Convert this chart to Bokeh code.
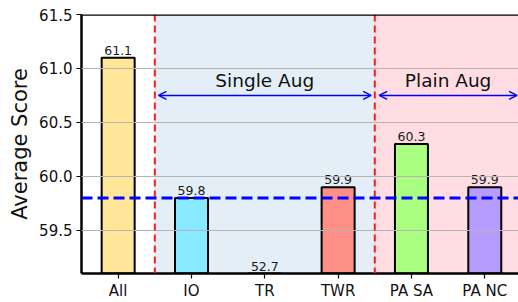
from bokeh.plotting import figure
from bokeh.models import (ColumnDataSource, Span, Arrow, OpenHead, Label,
                          FixedTicker, NumeralTickFormatter, Range1d)
from bokeh.embed import file_html
from bokeh.resources import INLINE
from bokeh.core.properties import value

# ---- data ----
categories = ["All", "IO", "TR", "TWR", "PA SA", "PA NC"]
scores = [61.1, 59.8, 52.7, 59.9, 60.3, 59.9]
bar_colors = ["#FFE699", "#88EAFF", "#FFB6C1", "#FF9088", "#AAFF80", "#B69CFF"]
baseline = 59.8
y_ticks = [59.5, 60.0, 60.5, 61.0, 61.5]
groups = ["Single Aug", "Plain Aug"]

y0, y1 = 59.1, 61.5
x0, x1 = -0.5, 5.46

FONT = "DejaVu Sans"

p = figure(width=518, height=302, output_backend="svg", toolbar_location=None,
           x_range=Range1d(x0, x1), y_range=Range1d(y0, y1),
           min_border_left=81, min_border_right=0, min_border_top=14,
           min_border_bottom=27)
p.outline_line_color = None
p.background_fill_color = "white"

# shaded regions
p.quad(left=[0.5], right=[3.5], bottom=[y0], top=[y1],
       fill_color="#E3EEF6", line_color=None)
p.quad(left=[3.5], right=[6.0], bottom=[y0], top=[y1],
       fill_color="#FFDDE3", line_color=None)

xs = list(range(len(categories)))
src = ColumnDataSource(dict(x=xs, top=scores, color=bar_colors,
                            ly=[max(s, y0) for s in scores],
                            lab=[f"{s:.1f}" for s in scores]))
p.vbar(x="x", top="top", bottom=0, width=0.45, fill_color="color",
       line_color="black", line_width=2, source=src)

p.text(x="x", y="ly", text="lab", source=src, text_align="center",
       text_baseline="bottom", y_offset=-3, text_font=value(FONT),
       text_font_size="12.5px", text_color="#1a1a1a")

# grid above bars
p.xgrid.visible = False
p.ygrid.ticker = FixedTicker(ticks=y_ticks)
p.ygrid.grid_line_color = "#b5b5b5"
p.ygrid.grid_line_width = 1.2
p.ygrid.level = "annotation"

# red dashed separators
for xv in [0.5, 3.5]:
    p.add_layout(Span(location=xv, dimension="height", line_color="#FF1A1A",
                      line_width=2, line_dash="7 4"))

# baseline
p.add_layout(Span(location=baseline, dimension="width", line_color="#0000FF",
                  line_width=3, line_dash="11 5"))

# top border
p.add_layout(Span(location=y1, dimension="width", line_color="black",
                  line_width=2.5))

# arrows
ay = 60.75
for (xa, xb, name, xc) in [(0.55, 3.45, groups[0], 2.0),
                            (3.56, 5.44, groups[1], 4.5)]:
    p.add_layout(Arrow(x_start=xa, x_end=xb, y_start=ay, y_end=ay,
                       start=OpenHead(size=8, line_color="#0000FF", line_width=1.5),
                       end=OpenHead(size=8, line_color="#0000FF", line_width=1.5),
                       line_color="#0000FF", line_width=1.5))
    p.add_layout(Label(x=xc, y=ay, text=name, text_align="center",
                       text_baseline="bottom", y_offset=4,
                       text_font=FONT, text_font_size="18.5px",
                       text_color="#111111"))

# axes
p.yaxis.ticker = FixedTicker(ticks=y_ticks)
p.yaxis.formatter = NumeralTickFormatter(format="0.0")
p.yaxis.axis_label = "Average Score"
p.yaxis.axis_label_text_font = FONT
p.yaxis.axis_label_text_font_size = "21px"
p.yaxis.axis_label_text_font_style = "normal"
p.yaxis.axis_label_text_color = "#111111"
p.yaxis.axis_label_standoff = 4

p.xaxis.ticker = FixedTicker(ticks=xs)
p.xaxis.major_label_overrides = {i: c for i, c in enumerate(categories)}

for ax in [p.xaxis, p.yaxis]:
    ax.axis_line_width = 2.5
    ax.axis_line_color = "black"
    ax.major_tick_line_width = 1.2
    ax.major_tick_out = 5
    ax.major_tick_in = 0
    ax.minor_tick_line_color = None
    ax.major_label_text_font = FONT
    ax.major_label_text_font_size = "15px"
    ax.major_label_text_color = "#111111"
    ax.major_label_standoff = 4
p.xaxis.major_label_standoff = 3

open("out.html", "w").write(file_html(p, INLINE))
